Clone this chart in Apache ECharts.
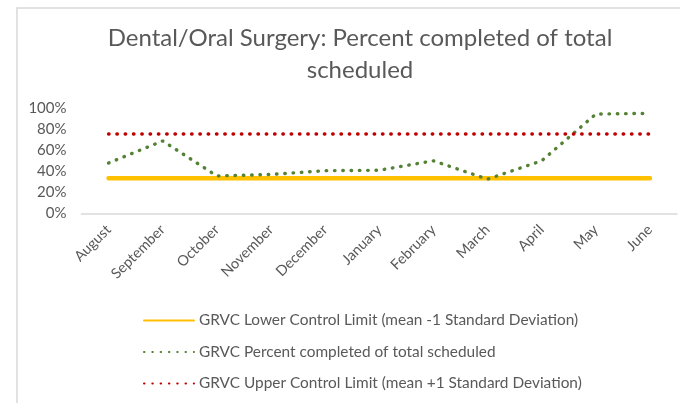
<!DOCTYPE html>
<html>
<head>
<meta charset="utf-8">
<script src="https://cdn.jsdelivr.net/npm/echarts@6/dist/echarts.min.js"></script>
<style>
html,body{margin:0;padding:0;background:#fff;}
#main{width:680px;height:403px;}
</style>
</head>
<body>
<div id="main"></div>
<script>
// chart data
var months = ['August','September','October','November','December','January','February','March','April','May','June'];
var lowerLimit = [0.333,0.333,0.333,0.333,0.333,0.333,0.333,0.333,0.333,0.333,0.333];
var percentDone = [0.479,0.689,0.356,0.37,0.406,0.41,0.50,0.325,0.50,0.945,0.952];
var upperLimit = [0.755,0.755,0.755,0.755,0.755,0.755,0.755,0.755,0.755,0.755,0.755];
var seriesNames = [
	'GRVC Lower Control Limit (mean -1 Standard Deviation)',
	'GRVC Percent completed of total scheduled',
	'GRVC Upper Control Limit (mean +1 Standard Deviation)'
];
var titleText = 'Dental/Oral Surgery: Percent completed of total\nscheduled';

var txt = '#595959';
var chart = echarts.init(document.getElementById('main'));
var option = {
	backgroundColor: '#fff',
	textStyle: { fontFamily: 'Lato' },
	graphic: [{
		type: 'rect',
		shape: { x: 17, y: 8, width: 700, height: 420 },
		style: { fill: 'none', stroke: '#d9d9d9', lineWidth: 1.5 },
		silent: true
	}, {
		// title, centred like the excel one
		type: 'text',
		x: 360,
		y: 22,
		silent: true,
		style: {
			text: titleText,
			textAlign: 'center',
			fill: txt,
			fontSize: 24,
			fontFamily: 'Lato',
			lineHeight: 32
		}
	}],
	legend: {
		orient: 'vertical',
		left: 138,
		top: 308,
		itemWidth: 50,
		itemHeight: 14,
		itemGap: 16.5,
		itemStyle: { opacity: 0 },
		textStyle: { color: txt, fontSize: 15.4, fontFamily: 'Lato' },
		data: seriesNames
	},
	grid: { left: 81.5, right: 3, top: 108.3, bottom: 189.7 },
	xAxis: {
		type: 'category',
		data: months,
		axisLine: { lineStyle: { color: '#d9d9d9', width: 1.5 } },
		axisTick: { show: false },
		axisLabel: { rotate: 45, color: txt, fontSize: 14.5, fontFamily: 'Lato', margin: 14, interval: 0 }
	},
	yAxis: {
		type: 'value',
		min: 0,
		max: 1,
		interval: 0.2,
		splitLine: { show: false },
		axisLine: { show: false },
		axisTick: { show: false },
		axisLabel: {
			color: txt, fontSize: 15, fontFamily: 'Lato', margin: 15,
			formatter: function (v) { return Math.round(v * 100) + '%'; }
		}
	},
	series: [
		{
			name: seriesNames[0],
			type: 'line',
			data: lowerLimit,
			symbol: 'none',
			color: '#FFC000',
			lineStyle: { color: '#FFC000', width: 4.5, cap: 'round' }
		},
		{
			name: seriesNames[1],
			type: 'line',
			data: percentDone,
			symbol: 'none',
			color: '#548235',
			lineStyle: { color: '#548235', width: 3.4, type: [0.5, 7.8], cap: 'round' }
		},
		{
			name: seriesNames[2],
			type: 'line',
			data: upperLimit,
			symbol: 'none',
			color: '#C00000',
			lineStyle: { color: '#C00000', width: 3.4, type: [0.5, 7.8], cap: 'round' }
		}
	]
};
chart.setOption(option);
</script>
</body>
</html>
